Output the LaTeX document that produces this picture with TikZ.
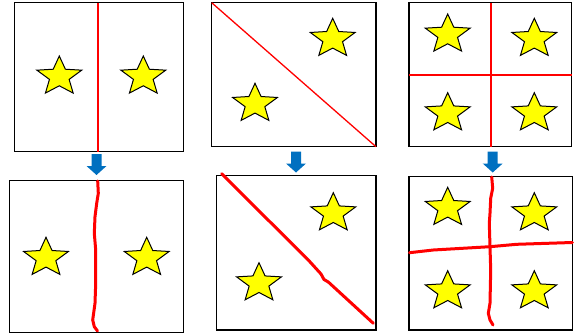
\documentclass[tikz,border=0pt]{standalone}
\usepackage{tikz}
\definecolor{starfill}{RGB}{255,255,0}
\definecolor{arrowblue}{RGB}{0,112,192}
\definecolor{cutred}{RGB}{255,0,0}
\tikzset{
  panel/.style={draw=black, line width=1.3pt, fill=white},
  thincut/.style={draw=cutred, line width=1.3pt},
  thickcut/.style={draw=cutred, line width=3pt, line cap=round, line join=round},
  starline/.style={draw=black, line width=1pt, fill=starfill, line join=miter},
  yellowstar/.pic={
    \path[starline] (0,-20.5) -- (6.08,-7.28) -- (22.42,-6.33) -- (9.84,2.9)
      -- (13.86,16.58) -- (0,9.3) -- (-13.86,16.58) -- (-9.84,2.9)
      -- (-22.42,-6.33) -- (-6.08,-7.28) -- cycle;
  },
  downarrow/.pic={
    \fill[arrowblue] (-5,0) -- (5,0) -- (5,12) -- (10,12) -- (0,21) -- (-10,12) -- (-5,12) -- cycle;
  }
}
\begin{document}
\begin{tikzpicture}[x=1pt,y=-1pt]
\useasboundingbox (0,0) rectangle (578,334);

% ---------- Panel 1 top ----------
\path[panel] (14.7,2.7) rectangle (183.3,151.7);
\coordinate (p1t) at (98,2.7);
\coordinate (p1b) at (98,151.7);
\draw[thincut] (p1t) -- (p1b);
\pic at (59.3,76.5) {yellowstar};
\pic at (143.3,76.5) {yellowstar};

\pic at (96.5,154) {downarrow};

% ---------- Panel 1 bottom ----------
\path[panel] (9.7,180.3) rectangle (183.3,332.7);
\draw[thickcut] (97.7,181) -- (98.3,193.3) -- (96.7,203.3) -- (95,216.7)
  -- (94.3,233.3) -- (95.7,250) -- (95.7,283.3) -- (95,303.3) -- (92.7,320)
  -- (94.3,326.7) -- (97.5,331);
\pic at (46,257.8) {yellowstar};
\pic at (146.7,257.8) {yellowstar};

% ---------- Panel 2 top ----------
\path[panel] (211.7,2.7) rectangle (376,146.7);
\draw[thincut] (211.7,2.7) -- (376,146.7);
\pic at (332.7,38.8) {yellowstar};
\pic at (255,103.8) {yellowstar};

\pic at (296,151.5) {downarrow};

% ---------- Panel 2 bottom ----------
\path[panel] (216.7,175.3) rectangle (376,330);
\draw[thickcut] (221.7,173.8) -- (308.3,260) -- (321,274) -- (324,279.5)
  -- (328.3,282) -- (373.3,323.3);
\pic at (333.3,213.2) {yellowstar};
\pic at (259,283.2) {yellowstar};

% ---------- Panel 3 top ----------
\path[panel] (409,2.7) rectangle (571.7,146.7);
\draw[thincut] (491,2.7) -- (491,146.7);
\draw[thincut] (409,75) -- (571.7,75);
\pic at (447.7,34.5) {yellowstar};
\pic at (534.3,38.8) {yellowstar};
\pic at (447.7,113.2) {yellowstar};
\pic at (534.3,113.2) {yellowstar};

\pic at (492.7,151.5) {downarrow};

% ---------- Panel 3 bottom ----------
\path[panel] (409,176.3) rectangle (572.3,330);
\draw[thickcut] (491.7,177) -- (492.7,188.3) -- (490.7,198.3) -- (490,213.3)
  -- (489.3,223.3) -- (490,246.7) -- (490.7,270) -- (490,303.3) -- (488.3,313.3)
  -- (490,320) -- (493,325);
\draw[thickcut] (409.5,252.7) -- (433.3,250) -- (490,246.7) -- (516.7,244.3) -- (572.3,242.5);
\pic at (447.7,207.8) {yellowstar};
\pic at (534.3,213.2) {yellowstar};
\pic at (447.7,291.2) {yellowstar};
\pic at (534.3,291.2) {yellowstar};
\end{tikzpicture}
\end{document}
